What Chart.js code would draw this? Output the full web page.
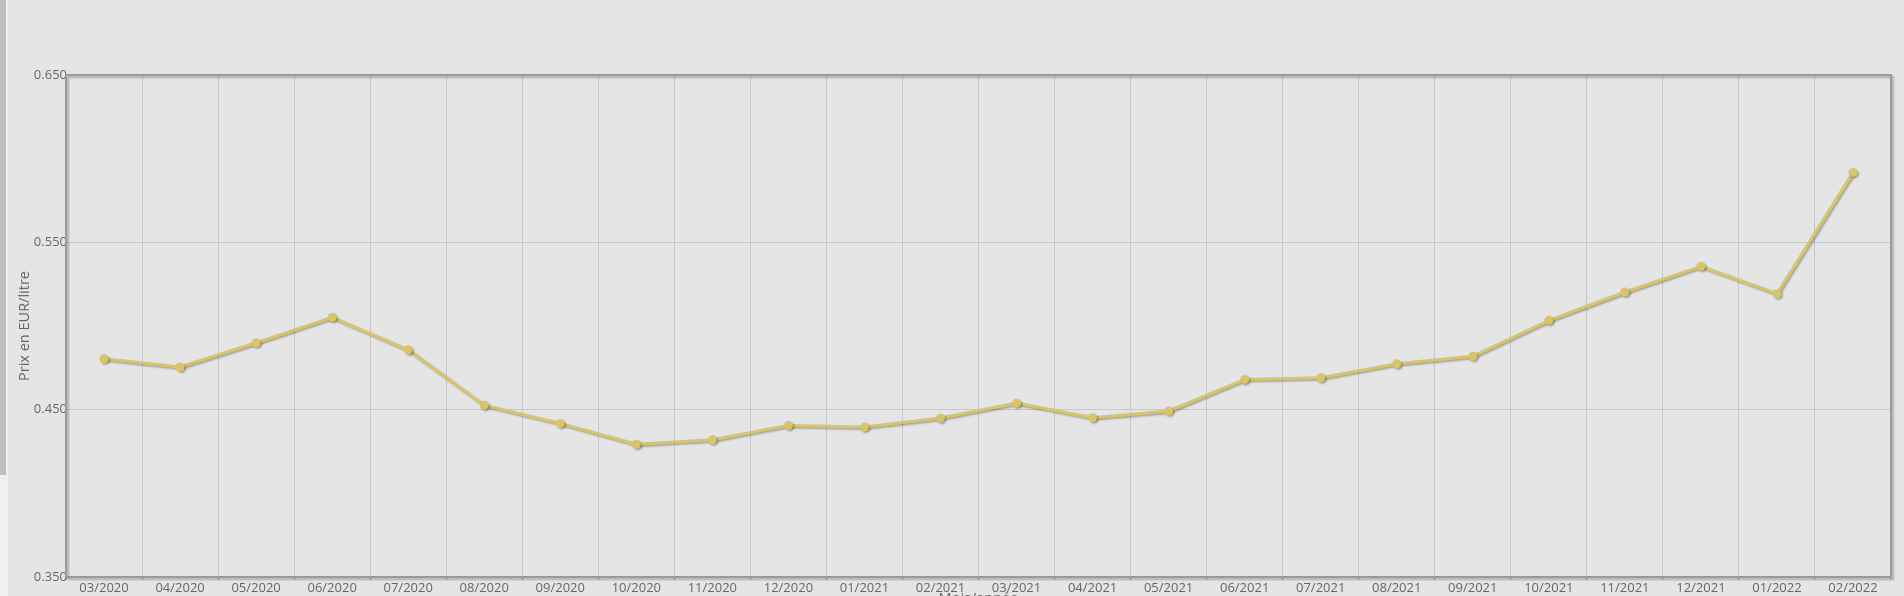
<!DOCTYPE html>
<html>
<head>
<meta charset="utf-8">
<script src="https://cdn.jsdelivr.net/npm/chart.js@4.4.1/dist/chart.umd.min.js"></script>
<style>
  html, body { margin: 0; padding: 0; background: #e5e5e5; overflow: hidden; }
  #wrap { position: relative; width: 1904px; height: 612px; }
  #strip { position: absolute; left: 0; top: 0; width: 6px; height: 475px; background: #c0c0c0; }
  #strip2 { position: absolute; left: 0; top: 475px; width: 6px; height: 137px; background: #f0f0f0; }
  #edge { position: absolute; left: 6px; top: 0; width: 2px; height: 612px; background: #f0f0f0; }
</style>
</head>
<body>
<div id="wrap">
  <canvas id="price-chart"></canvas>
  <div id="strip"></div>
  <div id="strip2"></div>
  <div id="edge"></div>
</div>
<script>
const months = ["03/2020", "04/2020", "05/2020", "06/2020", "07/2020", "08/2020", "09/2020", "10/2020",
  "11/2020", "12/2020", "01/2021", "02/2021", "03/2021", "04/2021", "05/2021", "06/2021",
  "07/2021", "08/2021", "09/2021", "10/2021", "11/2021", "12/2021", "01/2022", "02/2022"];

const prices = [0.4804, 0.4755, 0.4900, 0.5052, 0.4858, 0.4527, 0.4418, 0.4293,
  0.4320, 0.4406, 0.4396, 0.4450, 0.4539, 0.4452, 0.4492, 0.4681,
  0.4691, 0.4774, 0.4819, 0.5034, 0.5203, 0.5357, 0.5193, 0.5918];

const yMin = 0.35;
const yMax = 0.65;
const yStep = 0.1;

Chart.defaults.font.family = "'Open Sans', sans-serif";
Chart.defaults.font.size = 13;
Chart.defaults.color = "#666";

// frame around the plot with a soft shadow
const framePlugin = {
  id: "frame",
  beforeDatasetsDraw(chart) {
    const { ctx, chartArea: a } = chart;
    ctx.save();
    ctx.shadowColor = "rgba(0,0,0,0.25)";
    ctx.shadowOffsetX = 2;
    ctx.shadowOffsetY = 2;
    ctx.shadowBlur = 2;
    ctx.strokeStyle = "#999";
    ctx.lineWidth = 2;
    ctx.strokeRect(a.left, a.top, a.right - a.left, a.bottom - a.top);
    ctx.restore();
  },
  beforeDatasetDraw(chart) {
    const ctx = chart.ctx;
    ctx.save();
    ctx.shadowColor = "rgba(0,0,0,0.3)";
    ctx.shadowOffsetX = 1.5;
    ctx.shadowOffsetY = 1.5;
    ctx.shadowBlur = 2;
  },
  afterDatasetDraw(chart) {
    chart.ctx.restore();
  }
};

new Chart(document.getElementById("price-chart"), {
  type: "line",
  data: {
    labels: months,
    datasets: [{
      data: prices,
      borderColor: "#d8c56a",
      backgroundColor: "#d8c56a",
      borderWidth: 3,
      pointRadius: 4.5,
      pointBorderWidth: 0,
      tension: 0,
    }],
  },
  options: {
    responsive: true,
    maintainAspectRatio: false,
    animation: false,
    layout: { padding: { top: 75, right: 13, left: 0, bottom: 0 } },
    plugins: { legend: { display: false }, tooltip: { enabled: false } },
    scales: {
      x: {
        offset: true,
        grid: { offset: true, color: "#c8c8c8", tickLength: 3, tickColor: "#aaa" },
        border: { display: false },
        ticks: { padding: 0, maxRotation: 0, autoSkip: false },
        title: { display: true, text: "Mois/année", font: { size: 14.5 }, padding: { top: 0, bottom: 4 } },
        afterFit(scale) { scale.height = 35; },
      },
      y: {
        min: yMin,
        max: yMax,
        grid: { color: "#c8c8c8", tickLength: 0 },
        border: { display: false },
        ticks: {
          stepSize: yStep,
          padding: -1,
          callback: (v) => v.toFixed(3),
        },
        title: { display: true, text: "Prix en EUR/litre", font: { size: 14.5 }, padding: { top: 16, bottom: 0 } },
        afterFit(scale) { scale.width = 66; },
      },
    },
  },
  plugins: [framePlugin],
});
</script>
</body>
</html>
